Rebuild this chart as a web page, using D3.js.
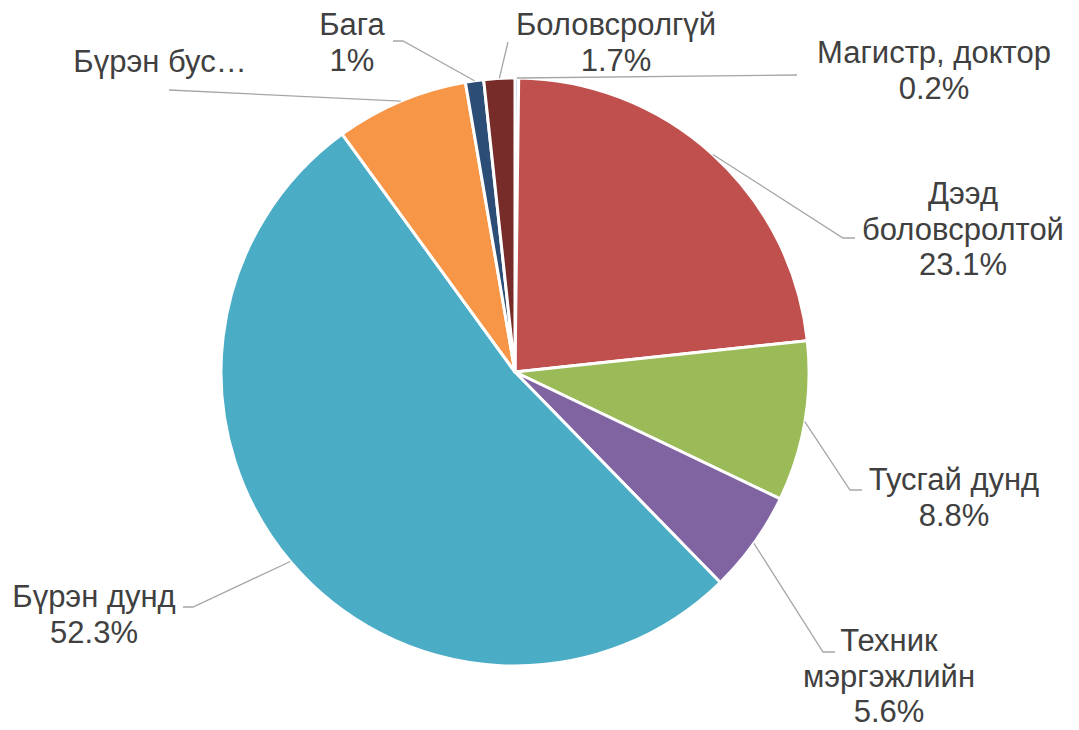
<!DOCTYPE html>
<html>
<head>
<meta charset="utf-8">
<script src="https://cdn.jsdelivr.net/npm/d3@7"></script>
<style>
  html, body { margin: 0; padding: 0; background: #fff; }
  svg { display: block; }
  text { font-family: "Liberation Sans", Arial, sans-serif; font-size: 31px; fill: #404040; }
</style>
</head>
<body>
<svg id="chart" width="1079" height="730"></svg>
<script>
// ---- data ----
const categories = ["Магистр, доктор", "Дээд боловсролтой", "Тусгай дунд", "Техник мэргэжлийн",
                    "Бүрэн дунд", "Бүрэн бус дунд", "Бага", "Боловсролгүй"];
const values = [0.2, 23.1, 8.8, 5.6, 52.3, 7.3, 1.0, 1.7];
const valueLabels = ["0.2%", "23.1%", "8.8%", "5.6%", "52.3%", "7.3%", "1%", "1.7%"];
const colors = ["#4F81BD", "#C0504D", "#9BBB59", "#8064A2", "#4BACC6", "#F79646", "#2C4D75", "#772C2A"];

// ---- label layout (text lines, anchor, leader-line elbow) ----
const labelLines = [
  ["Магистр, доктор", "0.2%"],
  ["Дээд", "боловсролтой", "23.1%"],
  ["Тусгай дунд", "8.8%"],
  ["Техник", "мэргэжлийн", "5.6%"],
  ["Бүрэн дунд", "52.3%"],
  ["Бүрэн бус…"],
  ["Бага", "1%"],
  ["Боловсролгүй", "1.7%"]
];
const labelPos = [ // [centerX, firstBaseline]
  [934, 63], [963, 204], [954, 490], [889, 651], [94, 607], [160, 72], [352, 35], [616, 35]
];
const leaderPts = [ // points after the slice edge point
  [[797, 75]],
  [[843, 238], [855, 238]],
  [[850, 490], [862, 490]],
  [[823, 652], [835, 652]],
  [[193, 607], [183, 607]],
  [[169, 90]],
  [[403, 41], [393, 41]],
  [[508, 42]]
];

const W = 1079, H = 730;
const cx = 515, cy = 372, R = 294;
const svg = d3.select("#chart");
const g = svg.append("g").attr("transform", `translate(${cx},${cy})`);

const pie = d3.pie().sort(null).value(d => d);
const arcs = pie(values);
const arc = d3.arc().innerRadius(0).outerRadius(R);
const edgeArc = d3.arc().innerRadius(R).outerRadius(R);

g.selectAll("path.slice").data(arcs).enter().append("path")
  .attr("class", "slice")
  .attr("d", arc)
  .attr("fill", (d, i) => colors[i])
  .attr("stroke", "#fff")
  .attr("stroke-width", 3)
  .attr("stroke-linejoin", "round");

// leader lines
const line = d3.line();
arcs.forEach((d, i) => {
  const e = edgeArc.centroid(d);
  const pts = [[e[0] + cx, e[1] + cy]].concat(leaderPts[i]);
  svg.append("path")
    .attr("d", line(pts))
    .attr("fill", "none")
    .attr("stroke", "#A6A6A6")
    .attr("stroke-width", 1.3);
});

// labels
labelLines.forEach((lines, i) => {
  const t = svg.append("text")
    .attr("text-anchor", "middle")
    .attr("x", labelPos[i][0])
    .attr("y", labelPos[i][1]);
  lines.forEach((s, j) => {
    t.append("tspan").attr("x", labelPos[i][0]).attr("dy", j === 0 ? 0 : 35.5).text(s);
  });
});
</script>
</body>
</html>
